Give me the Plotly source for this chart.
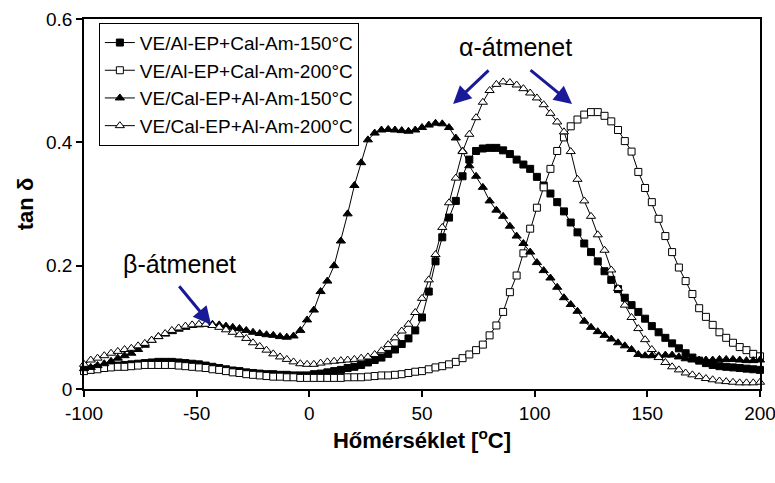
import plotly.graph_objects as go

# Temperature grid (°C), one marker every 3 °C
temps = list(range(-100, 201, 3))

s1_name = "VE/Al-EP+Cal-Am-150°C"
s1_vals = [
    0.030, 0.032, 0.034, 0.035, 0.037, 0.038, 0.039, 0.040, 0.041, 0.042,
    0.043, 0.044, 0.044, 0.044, 0.043, 0.042, 0.041, 0.040, 0.038, 0.036,
    0.034, 0.032, 0.030, 0.029, 0.027, 0.026, 0.025, 0.024, 0.024, 0.023,
    0.023, 0.022, 0.022, 0.022, 0.024, 0.025, 0.027, 0.029, 0.031, 0.034,
    0.036, 0.039, 0.043, 0.047, 0.051, 0.057, 0.064, 0.073, 0.082, 0.095,
    0.116, 0.158, 0.207, 0.246, 0.278, 0.305, 0.345, 0.372, 0.386, 0.390,
    0.391, 0.391, 0.387, 0.381, 0.372, 0.364, 0.357, 0.344, 0.330, 0.317,
    0.303, 0.288, 0.270, 0.254, 0.236, 0.222, 0.207, 0.191, 0.177, 0.162,
    0.148, 0.136, 0.125, 0.114, 0.102, 0.092, 0.083, 0.074, 0.066, 0.058,
    0.051, 0.046, 0.042, 0.039, 0.037, 0.036, 0.035, 0.034, 0.033, 0.032,
    0.031,
]

s2_name = "VE/Al-EP+Cal-Am-200°C"
s2_vals = [
    0.029, 0.031, 0.032, 0.034, 0.035, 0.036, 0.036, 0.037, 0.038, 0.039,
    0.039, 0.039, 0.039, 0.039, 0.038, 0.037, 0.036, 0.035, 0.034, 0.032,
    0.031, 0.029, 0.027, 0.026, 0.024, 0.023, 0.022, 0.021, 0.020, 0.020,
    0.019, 0.019, 0.018, 0.018, 0.018, 0.018, 0.018, 0.018, 0.018, 0.019,
    0.019, 0.019, 0.020, 0.021, 0.022, 0.022, 0.023, 0.024, 0.026, 0.028,
    0.029, 0.032, 0.035, 0.037, 0.040, 0.044, 0.050, 0.056, 0.063, 0.072,
    0.087, 0.103, 0.125, 0.157, 0.184, 0.220, 0.260, 0.294, 0.327, 0.357,
    0.386, 0.408, 0.426, 0.437, 0.445, 0.449, 0.449, 0.443, 0.434, 0.420,
    0.402, 0.385, 0.352, 0.326, 0.303, 0.276, 0.248, 0.222, 0.197, 0.175,
    0.154, 0.131, 0.117, 0.104, 0.092, 0.083, 0.075, 0.068, 0.063, 0.057,
    0.053,
]

s3_name = "VE/Cal-EP+Al-Am-150°C"
s3_vals = [
    0.033, 0.035, 0.038, 0.041, 0.045, 0.050, 0.054, 0.058, 0.064, 0.071,
    0.079, 0.085, 0.089, 0.093, 0.097, 0.100, 0.103, 0.104, 0.105, 0.105,
    0.104, 0.102, 0.100, 0.098, 0.095, 0.092, 0.090, 0.088, 0.087, 0.085,
    0.084, 0.086, 0.095, 0.112, 0.128, 0.158, 0.175, 0.200, 0.240, 0.284,
    0.330, 0.367, 0.404, 0.415, 0.420, 0.421, 0.420, 0.419, 0.418, 0.420,
    0.424, 0.428, 0.431, 0.430, 0.424, 0.407, 0.386, 0.362, 0.345, 0.327,
    0.305, 0.290, 0.280, 0.264, 0.248, 0.236, 0.222, 0.205, 0.192, 0.180,
    0.165, 0.148, 0.137, 0.126, 0.110, 0.100, 0.093, 0.087, 0.081, 0.075,
    0.070, 0.064, 0.056, 0.054, 0.054, 0.054, 0.055, 0.055, 0.052, 0.049,
    0.047, 0.047, 0.047, 0.047, 0.048, 0.048, 0.048, 0.047, 0.046, 0.046,
    0.047,
]

s4_name = "VE/Cal-EP+Al-Am-200°C"
s4_vals = [
    0.040, 0.047, 0.050, 0.054, 0.058, 0.061, 0.064, 0.066, 0.070, 0.074,
    0.079, 0.085, 0.090, 0.095, 0.099, 0.102, 0.104, 0.105, 0.105, 0.103,
    0.100, 0.096, 0.092, 0.088, 0.082, 0.075, 0.069, 0.063, 0.057, 0.052,
    0.048, 0.044, 0.041, 0.040, 0.040, 0.042, 0.044, 0.045, 0.046, 0.047,
    0.048, 0.050, 0.052, 0.056, 0.062, 0.072, 0.083, 0.094, 0.105, 0.124,
    0.147, 0.177, 0.218, 0.262, 0.302, 0.342, 0.385, 0.413, 0.440, 0.465,
    0.484, 0.494, 0.498, 0.497, 0.493, 0.487, 0.480, 0.472, 0.461, 0.447,
    0.433, 0.417, 0.385, 0.340, 0.305, 0.280, 0.250, 0.225, 0.193, 0.163,
    0.136, 0.116, 0.098, 0.080, 0.064, 0.051, 0.043, 0.036, 0.031, 0.026,
    0.023, 0.020, 0.017, 0.015, 0.013, 0.012, 0.011, 0.010, 0.010, 0.010,
    0.011,
]

x_ticks = [-100, -50, 0, 50, 100, 150, 200]
y_ticks = [0, 0.2, 0.4, 0.6]
x_title = "Hőmérséklet [<sup>o</sup>C]"
y_title = "tan δ"
alpha_label = "α-átmenet"
beta_label = "β-átmenet"

FONT = "Liberation Sans, Arial, sans-serif"
ARROW = "#1a1a99"

series = [
    (s1_name, s1_vals, "square", "black", 7),
    (s2_name, s2_vals, "square", "white", 7),
    (s3_name, s3_vals, "triangle-up", "black", 8),
    (s4_name, s4_vals, "triangle-up", "white", 8),
]

fig = go.Figure()
for i, (name, vals, sym, fill, size) in enumerate(series):
    fig.add_trace(go.Scatter(
        x=temps, y=vals, name=name, mode="lines+markers",
        line=dict(color="black", width=1),
        marker=dict(symbol=sym, size=size, color=fill,
                    line=dict(color="black", width=1)),
        cliponaxis=False,
    ))

annotations = [
    dict(x=91.7, y=0.555, xref="x", yref="y", text=alpha_label, showarrow=False,
         font=dict(size=25, color="black", family=FONT)),
    dict(x=-57.4, y=0.203, xref="x", yref="y", text=beta_label, showarrow=False,
         font=dict(size=25, color="black", family=FONT)),
    dict(x=63.8, y=0.462, ax=80.2, ay=0.519, xref="x", yref="y", axref="x", ayref="y",
         text="", showarrow=True, arrowhead=2, arrowsize=1.2, arrowwidth=3, arrowcolor=ARROW),
    dict(x=116.6, y=0.462, ax=97.5, ay=0.519, xref="x", yref="y", axref="x", ayref="y",
         text="", showarrow=True, arrowhead=2, arrowsize=1.2, arrowwidth=3, arrowcolor=ARROW),
    dict(x=-43.6, y=0.104, ax=-58.3, ay=0.169, xref="x", yref="y", axref="x", ayref="y",
         text="", showarrow=True, arrowhead=2, arrowsize=1.2, arrowwidth=3, arrowcolor=ARROW),
]

fig.update_layout(
    width=775, height=483,
    margin=dict(l=84, r=15, t=19, b=94, autoexpand=False),
    paper_bgcolor="white", plot_bgcolor="white",
    font=dict(family=FONT, size=19, color="black"),
    showlegend=True,
    legend=dict(
        x=0.022, y=0.99, xanchor="left", yanchor="top",
        bgcolor="white", bordercolor="black", borderwidth=1,
        font=dict(size=19, family=FONT, color="black"),
        itemwidth=30,
    ),
    annotations=annotations,
)
fig.update_xaxes(
    range=[-100, 200], tickvals=x_ticks, ticktext=[str(v) for v in x_ticks],
    ticklabeloverflow="allow", automargin=False,
    showgrid=False, zeroline=False, showline=True, linecolor="black", linewidth=1.5,
    mirror=True, ticks="outside", ticklen=6, tickcolor="black", tickwidth=1.5,
    title=dict(text=x_title, font=dict(size=22, family=FONT, color="black", weight="bold"), standoff=10),
)
fig.update_yaxes(
    range=[0, 0.6], tickvals=y_ticks, ticktext=["0", "0.2", "0.4", "0.6"],
    ticklabeloverflow="allow", automargin=False,
    showgrid=False, zeroline=False, showline=True, linecolor="black", linewidth=1.5,
    mirror=True, ticks="outside", ticklen=6, tickcolor="black", tickwidth=1.5,
    title=dict(text=y_title, font=dict(size=22, family=FONT, color="black", weight="bold"), standoff=6),
)

fig.write_html("out.html")
